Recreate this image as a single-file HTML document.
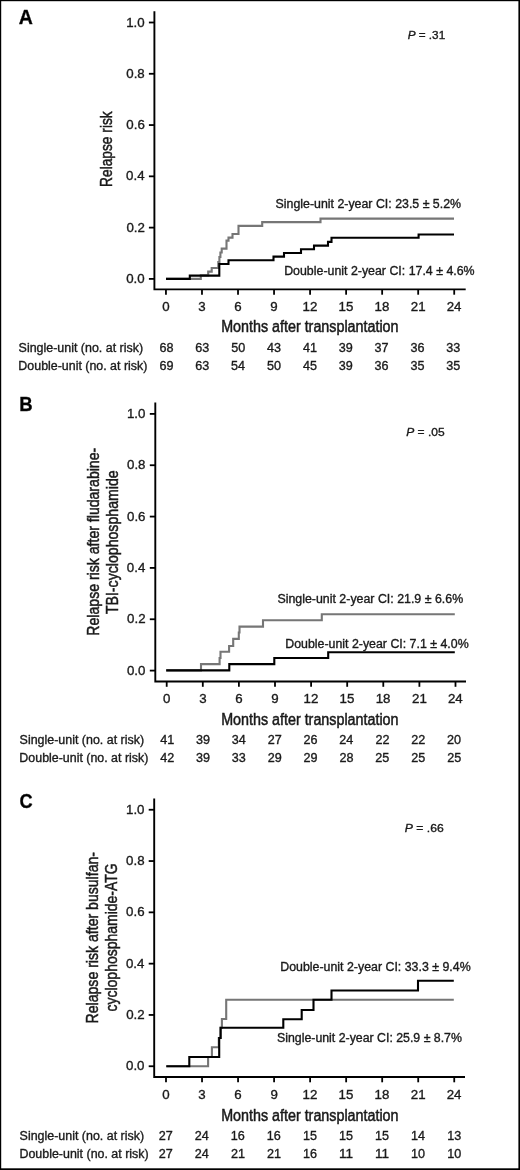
<!DOCTYPE html>
<html><head><meta charset="utf-8"><title>Relapse risk</title>
<style>
html,body{margin:0;padding:0;background:#fff;}
body{width:520px;height:1170px;overflow:hidden;position:relative;}
svg{position:absolute;left:0;top:0;display:block;}
text{font-family:"Liberation Sans", sans-serif;stroke:#1a1a1a;stroke-width:0.35px;}
text.c{stroke-width:0.5px;}
svg.pl{filter:blur(0.3px);}
</style></head>
<body>
<svg class="pl" width="520" height="1170" viewBox="0 0 520 1170">
<rect x="0" y="0" width="520" height="1170" fill="#fff"/>
<path d="M154.40 11.30 L154.40 289.40 L465.70 289.40" fill="none" stroke="#000" stroke-width="1.90" stroke-linejoin="miter"/>
<path d="M148.90 278.90 L154.40 278.90" stroke="#000" stroke-width="1.80"/>
<text x="126.23" y="283.00" font-size="13.30" font-weight="normal" font-style="normal" textLength="18.49" lengthAdjust="spacingAndGlyphs" fill="#1a1a1a">0.0</text>
<path d="M148.90 227.62 L154.40 227.62" stroke="#000" stroke-width="1.80"/>
<text x="126.38" y="231.72" font-size="13.30" font-weight="normal" font-style="normal" textLength="18.49" lengthAdjust="spacingAndGlyphs" fill="#1a1a1a">0.2</text>
<path d="M148.90 176.34 L154.40 176.34" stroke="#000" stroke-width="1.80"/>
<text x="126.10" y="180.44" font-size="13.30" font-weight="normal" font-style="normal" textLength="18.49" lengthAdjust="spacingAndGlyphs" fill="#1a1a1a">0.4</text>
<path d="M148.90 125.06 L154.40 125.06" stroke="#000" stroke-width="1.80"/>
<text x="126.30" y="129.16" font-size="13.30" font-weight="normal" font-style="normal" textLength="18.49" lengthAdjust="spacingAndGlyphs" fill="#1a1a1a">0.6</text>
<path d="M148.90 73.78 L154.40 73.78" stroke="#000" stroke-width="1.80"/>
<text x="126.29" y="77.88" font-size="13.30" font-weight="normal" font-style="normal" textLength="18.49" lengthAdjust="spacingAndGlyphs" fill="#1a1a1a">0.8</text>
<path d="M148.90 22.50 L154.40 22.50" stroke="#000" stroke-width="1.80"/>
<text x="126.23" y="26.60" font-size="13.30" font-weight="normal" font-style="normal" textLength="18.49" lengthAdjust="spacingAndGlyphs" fill="#1a1a1a">1.0</text>
<path d="M165.95 289.40 L165.95 294.70" stroke="#000" stroke-width="1.80"/>
<text x="162.25" y="310.60" font-size="13.30" font-weight="normal" font-style="normal" textLength="7.40" lengthAdjust="spacingAndGlyphs" fill="#1a1a1a">0</text>
<path d="M201.98 289.40 L201.98 294.70" stroke="#000" stroke-width="1.80"/>
<text x="198.32" y="310.60" font-size="13.30" font-weight="normal" font-style="normal" textLength="7.40" lengthAdjust="spacingAndGlyphs" fill="#1a1a1a">3</text>
<path d="M238.02 289.40 L238.02 294.70" stroke="#000" stroke-width="1.80"/>
<text x="234.27" y="310.60" font-size="13.30" font-weight="normal" font-style="normal" textLength="7.40" lengthAdjust="spacingAndGlyphs" fill="#1a1a1a">6</text>
<path d="M274.05 289.40 L274.05 294.70" stroke="#000" stroke-width="1.80"/>
<text x="270.35" y="310.60" font-size="13.30" font-weight="normal" font-style="normal" textLength="7.40" lengthAdjust="spacingAndGlyphs" fill="#1a1a1a">9</text>
<path d="M310.08 289.40 L310.08 294.70" stroke="#000" stroke-width="1.80"/>
<text x="302.51" y="310.60" font-size="13.30" font-weight="normal" font-style="normal" textLength="14.79" lengthAdjust="spacingAndGlyphs" fill="#1a1a1a">12</text>
<path d="M346.12 289.40 L346.12 294.70" stroke="#000" stroke-width="1.80"/>
<text x="338.49" y="310.60" font-size="13.30" font-weight="normal" font-style="normal" textLength="14.79" lengthAdjust="spacingAndGlyphs" fill="#1a1a1a">15</text>
<path d="M382.15 289.40 L382.15 294.70" stroke="#000" stroke-width="1.80"/>
<text x="374.53" y="310.60" font-size="13.30" font-weight="normal" font-style="normal" textLength="14.79" lengthAdjust="spacingAndGlyphs" fill="#1a1a1a">18</text>
<path d="M418.18 289.40 L418.18 294.70" stroke="#000" stroke-width="1.80"/>
<text x="410.77" y="310.60" font-size="13.30" font-weight="normal" font-style="normal" textLength="14.79" lengthAdjust="spacingAndGlyphs" fill="#1a1a1a">21</text>
<path d="M454.21 289.40 L454.21 294.70" stroke="#000" stroke-width="1.80"/>
<text x="446.68" y="310.60" font-size="13.30" font-weight="normal" font-style="normal" textLength="14.79" lengthAdjust="spacingAndGlyphs" fill="#1a1a1a">24</text>
<text x="221.13" y="332.15" font-size="16.00" font-weight="normal" font-style="normal" textLength="177.40" lengthAdjust="spacingAndGlyphs" fill="#1a1a1a" class="c">Months after transplantation</text>
<text class="c" transform="rotate(-90)" x="-186.93" y="112.20" font-size="16.30" textLength="75.61" lengthAdjust="spacingAndGlyphs" fill="#1a1a1a">Relapse risk</text>
<text x="18.71" y="23.60" font-size="19.60" font-weight="bold" font-style="normal" textLength="14.10" lengthAdjust="spacingAndGlyphs" fill="#000">A</text>
<g transform="translate(407.64 38.60) scale(1.0299 1)"><text x="0" y="0" font-size="11.40" fill="#1a1a1a"><tspan font-style="italic">P</tspan><tspan> = .31</tspan></text></g>
<text x="275.64" y="208.10" font-size="12.00" font-weight="normal" font-style="normal" textLength="185.40" lengthAdjust="spacingAndGlyphs" fill="#1a1a1a">Single-unit 2-year CI: 23.5 ± 5.2%</text>
<text x="284.18" y="275.10" font-size="12.00" font-weight="normal" font-style="normal" textLength="190.46" lengthAdjust="spacingAndGlyphs" fill="#1a1a1a">Double-unit 2-year CI: 17.4 ± 4.6%</text>
<text x="18.64" y="351.85" font-size="12.30" font-weight="normal" font-style="normal" textLength="124.44" lengthAdjust="spacingAndGlyphs" fill="#1a1a1a">Single-unit (no. at risk)</text>
<text x="159.40" y="351.85" font-size="12.60" font-weight="normal" font-style="normal" textLength="14.02" lengthAdjust="spacingAndGlyphs" fill="#1a1a1a">68</text>
<text x="195.25" y="351.85" font-size="12.60" font-weight="normal" font-style="normal" textLength="14.02" lengthAdjust="spacingAndGlyphs" fill="#1a1a1a">63</text>
<text x="231.14" y="351.85" font-size="12.60" font-weight="normal" font-style="normal" textLength="14.02" lengthAdjust="spacingAndGlyphs" fill="#1a1a1a">50</text>
<text x="267.12" y="351.85" font-size="12.60" font-weight="normal" font-style="normal" textLength="14.02" lengthAdjust="spacingAndGlyphs" fill="#1a1a1a">43</text>
<text x="303.01" y="351.85" font-size="12.60" font-weight="normal" font-style="normal" textLength="14.02" lengthAdjust="spacingAndGlyphs" fill="#1a1a1a">41</text>
<text x="338.75" y="351.85" font-size="12.60" font-weight="normal" font-style="normal" textLength="14.02" lengthAdjust="spacingAndGlyphs" fill="#1a1a1a">39</text>
<text x="374.62" y="351.85" font-size="12.60" font-weight="normal" font-style="normal" textLength="14.02" lengthAdjust="spacingAndGlyphs" fill="#1a1a1a">37</text>
<text x="410.43" y="351.85" font-size="12.60" font-weight="normal" font-style="normal" textLength="14.02" lengthAdjust="spacingAndGlyphs" fill="#1a1a1a">36</text>
<text x="446.28" y="351.85" font-size="12.60" font-weight="normal" font-style="normal" textLength="14.02" lengthAdjust="spacingAndGlyphs" fill="#1a1a1a">33</text>
<text x="18.38" y="369.85" font-size="12.30" font-weight="normal" font-style="normal" textLength="128.99" lengthAdjust="spacingAndGlyphs" fill="#1a1a1a">Double-unit (no. at risk)</text>
<text x="159.42" y="369.85" font-size="12.60" font-weight="normal" font-style="normal" textLength="14.02" lengthAdjust="spacingAndGlyphs" fill="#1a1a1a">69</text>
<text x="195.25" y="369.85" font-size="12.60" font-weight="normal" font-style="normal" textLength="14.02" lengthAdjust="spacingAndGlyphs" fill="#1a1a1a">63</text>
<text x="231.07" y="369.85" font-size="12.60" font-weight="normal" font-style="normal" textLength="14.02" lengthAdjust="spacingAndGlyphs" fill="#1a1a1a">54</text>
<text x="266.99" y="369.85" font-size="12.60" font-weight="normal" font-style="normal" textLength="14.02" lengthAdjust="spacingAndGlyphs" fill="#1a1a1a">50</text>
<text x="302.96" y="369.85" font-size="12.60" font-weight="normal" font-style="normal" textLength="14.02" lengthAdjust="spacingAndGlyphs" fill="#1a1a1a">45</text>
<text x="338.75" y="369.85" font-size="12.60" font-weight="normal" font-style="normal" textLength="14.02" lengthAdjust="spacingAndGlyphs" fill="#1a1a1a">39</text>
<text x="374.58" y="369.85" font-size="12.60" font-weight="normal" font-style="normal" textLength="14.02" lengthAdjust="spacingAndGlyphs" fill="#1a1a1a">36</text>
<text x="410.42" y="369.85" font-size="12.60" font-weight="normal" font-style="normal" textLength="14.02" lengthAdjust="spacingAndGlyphs" fill="#1a1a1a">35</text>
<text x="446.27" y="369.85" font-size="12.60" font-weight="normal" font-style="normal" textLength="14.02" lengthAdjust="spacingAndGlyphs" fill="#1a1a1a">35</text>
<path d="M166.00 278.90 L200.80 278.90 L200.80 275.40 L208.20 275.40 L208.20 271.60 L211.70 271.60 L211.70 268.00 L218.30 268.00 L218.30 262.00 L219.40 262.00 L219.40 257.00 L220.40 257.00 L220.40 252.50 L221.70 252.50 L221.70 248.60 L226.50 248.60 L226.50 240.60 L228.50 240.60 L228.50 237.60 L232.50 237.60 L232.50 234.00 L238.50 234.00 L238.50 225.90 L262.20 225.90 L262.20 222.10 L320.50 222.10 L320.50 218.60 L454.00 218.60" fill="none" stroke="#767676" stroke-width="2.10" stroke-linejoin="miter" stroke-linecap="butt"/>
<path d="M166.00 278.90 L189.80 278.90 L189.80 275.60 L219.30 275.60 L219.30 264.00 L228.50 264.00 L228.50 260.20 L273.50 260.20 L273.50 256.60 L284.00 256.60 L284.00 253.00 L301.00 253.00 L301.00 249.20 L314.00 249.20 L314.00 245.60 L328.00 245.60 L328.00 241.90 L331.50 241.90 L331.50 237.80 L418.60 237.80 L418.60 234.50 L454.00 234.50" fill="none" stroke="#000" stroke-width="2.10" stroke-linejoin="miter" stroke-linecap="butt"/>
<path d="M155.30 402.50 L155.30 681.50 L466.00 681.50" fill="none" stroke="#000" stroke-width="1.90" stroke-linejoin="miter"/>
<path d="M149.80 670.60 L155.30 670.60" stroke="#000" stroke-width="1.80"/>
<text x="126.93" y="674.70" font-size="13.30" font-weight="normal" font-style="normal" textLength="18.49" lengthAdjust="spacingAndGlyphs" fill="#1a1a1a">0.0</text>
<path d="M149.80 619.26 L155.30 619.26" stroke="#000" stroke-width="1.80"/>
<text x="127.08" y="623.36" font-size="13.30" font-weight="normal" font-style="normal" textLength="18.49" lengthAdjust="spacingAndGlyphs" fill="#1a1a1a">0.2</text>
<path d="M149.80 567.92 L155.30 567.92" stroke="#000" stroke-width="1.80"/>
<text x="126.80" y="572.02" font-size="13.30" font-weight="normal" font-style="normal" textLength="18.49" lengthAdjust="spacingAndGlyphs" fill="#1a1a1a">0.4</text>
<path d="M149.80 516.58 L155.30 516.58" stroke="#000" stroke-width="1.80"/>
<text x="127.00" y="520.68" font-size="13.30" font-weight="normal" font-style="normal" textLength="18.49" lengthAdjust="spacingAndGlyphs" fill="#1a1a1a">0.6</text>
<path d="M149.80 465.24 L155.30 465.24" stroke="#000" stroke-width="1.80"/>
<text x="126.99" y="469.34" font-size="13.30" font-weight="normal" font-style="normal" textLength="18.49" lengthAdjust="spacingAndGlyphs" fill="#1a1a1a">0.8</text>
<path d="M149.80 413.90 L155.30 413.90" stroke="#000" stroke-width="1.80"/>
<text x="126.93" y="418.00" font-size="13.30" font-weight="normal" font-style="normal" textLength="18.49" lengthAdjust="spacingAndGlyphs" fill="#1a1a1a">1.0</text>
<path d="M166.70 681.50 L166.70 686.80" stroke="#000" stroke-width="1.80"/>
<text x="163.00" y="702.70" font-size="13.30" font-weight="normal" font-style="normal" textLength="7.40" lengthAdjust="spacingAndGlyphs" fill="#1a1a1a">0</text>
<path d="M202.80 681.50 L202.80 686.80" stroke="#000" stroke-width="1.80"/>
<text x="199.14" y="702.70" font-size="13.30" font-weight="normal" font-style="normal" textLength="7.40" lengthAdjust="spacingAndGlyphs" fill="#1a1a1a">3</text>
<path d="M238.90 681.50 L238.90 686.80" stroke="#000" stroke-width="1.80"/>
<text x="235.15" y="702.70" font-size="13.30" font-weight="normal" font-style="normal" textLength="7.40" lengthAdjust="spacingAndGlyphs" fill="#1a1a1a">6</text>
<path d="M275.00 681.50 L275.00 686.80" stroke="#000" stroke-width="1.80"/>
<text x="271.30" y="702.70" font-size="13.30" font-weight="normal" font-style="normal" textLength="7.40" lengthAdjust="spacingAndGlyphs" fill="#1a1a1a">9</text>
<path d="M311.10 681.50 L311.10 686.80" stroke="#000" stroke-width="1.80"/>
<text x="303.53" y="702.70" font-size="13.30" font-weight="normal" font-style="normal" textLength="14.79" lengthAdjust="spacingAndGlyphs" fill="#1a1a1a">12</text>
<path d="M347.19 681.50 L347.19 686.80" stroke="#000" stroke-width="1.80"/>
<text x="339.57" y="702.70" font-size="13.30" font-weight="normal" font-style="normal" textLength="14.79" lengthAdjust="spacingAndGlyphs" fill="#1a1a1a">15</text>
<path d="M383.29 681.50 L383.29 686.80" stroke="#000" stroke-width="1.80"/>
<text x="375.68" y="702.70" font-size="13.30" font-weight="normal" font-style="normal" textLength="14.79" lengthAdjust="spacingAndGlyphs" fill="#1a1a1a">18</text>
<path d="M419.39 681.50 L419.39 686.80" stroke="#000" stroke-width="1.80"/>
<text x="411.99" y="702.70" font-size="13.30" font-weight="normal" font-style="normal" textLength="14.79" lengthAdjust="spacingAndGlyphs" fill="#1a1a1a">21</text>
<path d="M455.49 681.50 L455.49 686.80" stroke="#000" stroke-width="1.80"/>
<text x="447.96" y="702.70" font-size="13.30" font-weight="normal" font-style="normal" textLength="14.79" lengthAdjust="spacingAndGlyphs" fill="#1a1a1a">24</text>
<text x="221.13" y="725.15" font-size="16.00" font-weight="normal" font-style="normal" textLength="177.40" lengthAdjust="spacingAndGlyphs" fill="#1a1a1a" class="c">Months after transplantation</text>
<text class="c" transform="rotate(-90)" x="-635.66" y="99.40" font-size="16.30" textLength="187.88" lengthAdjust="spacingAndGlyphs" fill="#1a1a1a">Relapse risk after fludarabine-</text>
<text class="c" transform="rotate(-90)" x="-614.12" y="118.40" font-size="16.30" textLength="143.75" lengthAdjust="spacingAndGlyphs" fill="#1a1a1a">TBI-cyclophosphamide</text>
<text x="19.16" y="410.60" font-size="19.60" font-weight="bold" font-style="normal" textLength="13.38" lengthAdjust="spacingAndGlyphs" fill="#000">B</text>
<g transform="translate(406.23 436.20) scale(1.0530 1)"><text x="0" y="0" font-size="11.40" fill="#1a1a1a"><tspan font-style="italic">P</tspan><tspan> = .05</tspan></text></g>
<text x="277.44" y="603.40" font-size="12.00" font-weight="normal" font-style="normal" textLength="185.70" lengthAdjust="spacingAndGlyphs" fill="#1a1a1a">Single-unit 2-year CI: 21.9 ± 6.6%</text>
<text x="285.29" y="648.10" font-size="12.00" font-weight="normal" font-style="normal" textLength="183.35" lengthAdjust="spacingAndGlyphs" fill="#1a1a1a">Double-unit 2-year CI: 7.1 ± 4.0%</text>
<text x="19.64" y="744.35" font-size="12.30" font-weight="normal" font-style="normal" textLength="124.44" lengthAdjust="spacingAndGlyphs" fill="#1a1a1a">Single-unit (no. at risk)</text>
<text x="160.16" y="744.35" font-size="12.60" font-weight="normal" font-style="normal" textLength="14.02" lengthAdjust="spacingAndGlyphs" fill="#1a1a1a">41</text>
<text x="195.95" y="744.35" font-size="12.60" font-weight="normal" font-style="normal" textLength="14.02" lengthAdjust="spacingAndGlyphs" fill="#1a1a1a">39</text>
<text x="231.74" y="744.35" font-size="12.60" font-weight="normal" font-style="normal" textLength="14.02" lengthAdjust="spacingAndGlyphs" fill="#1a1a1a">34</text>
<text x="267.69" y="744.35" font-size="12.60" font-weight="normal" font-style="normal" textLength="14.02" lengthAdjust="spacingAndGlyphs" fill="#1a1a1a">27</text>
<text x="303.55" y="744.35" font-size="12.60" font-weight="normal" font-style="normal" textLength="14.02" lengthAdjust="spacingAndGlyphs" fill="#1a1a1a">26</text>
<text x="339.36" y="744.35" font-size="12.60" font-weight="normal" font-style="normal" textLength="14.02" lengthAdjust="spacingAndGlyphs" fill="#1a1a1a">24</text>
<text x="375.39" y="744.35" font-size="12.60" font-weight="normal" font-style="normal" textLength="14.02" lengthAdjust="spacingAndGlyphs" fill="#1a1a1a">22</text>
<text x="411.29" y="744.35" font-size="12.60" font-weight="normal" font-style="normal" textLength="14.02" lengthAdjust="spacingAndGlyphs" fill="#1a1a1a">22</text>
<text x="447.12" y="744.35" font-size="12.60" font-weight="normal" font-style="normal" textLength="14.02" lengthAdjust="spacingAndGlyphs" fill="#1a1a1a">20</text>
<text x="19.38" y="762.35" font-size="12.30" font-weight="normal" font-style="normal" textLength="128.99" lengthAdjust="spacingAndGlyphs" fill="#1a1a1a">Double-unit (no. at risk)</text>
<text x="160.16" y="762.35" font-size="12.60" font-weight="normal" font-style="normal" textLength="14.02" lengthAdjust="spacingAndGlyphs" fill="#1a1a1a">42</text>
<text x="195.95" y="762.35" font-size="12.60" font-weight="normal" font-style="normal" textLength="14.02" lengthAdjust="spacingAndGlyphs" fill="#1a1a1a">39</text>
<text x="231.83" y="762.35" font-size="12.60" font-weight="normal" font-style="normal" textLength="14.02" lengthAdjust="spacingAndGlyphs" fill="#1a1a1a">33</text>
<text x="267.67" y="762.35" font-size="12.60" font-weight="normal" font-style="normal" textLength="14.02" lengthAdjust="spacingAndGlyphs" fill="#1a1a1a">29</text>
<text x="303.57" y="762.35" font-size="12.60" font-weight="normal" font-style="normal" textLength="14.02" lengthAdjust="spacingAndGlyphs" fill="#1a1a1a">29</text>
<text x="339.45" y="762.35" font-size="12.60" font-weight="normal" font-style="normal" textLength="14.02" lengthAdjust="spacingAndGlyphs" fill="#1a1a1a">28</text>
<text x="375.34" y="762.35" font-size="12.60" font-weight="normal" font-style="normal" textLength="14.02" lengthAdjust="spacingAndGlyphs" fill="#1a1a1a">25</text>
<text x="411.24" y="762.35" font-size="12.60" font-weight="normal" font-style="normal" textLength="14.02" lengthAdjust="spacingAndGlyphs" fill="#1a1a1a">25</text>
<text x="447.14" y="762.35" font-size="12.60" font-weight="normal" font-style="normal" textLength="14.02" lengthAdjust="spacingAndGlyphs" fill="#1a1a1a">25</text>
<path d="M166.20 670.40 L201.00 670.40 L201.00 664.10 L219.60 664.10 L219.60 658.00 L220.50 658.00 L220.50 651.80 L229.10 651.80 L229.10 646.00 L233.20 646.00 L233.20 638.90 L238.80 638.90 L238.80 632.50 L239.50 632.50 L239.50 626.60 L263.00 626.60 L263.00 620.30 L321.80 620.30 L321.80 614.30 L454.80 614.30" fill="none" stroke="#767676" stroke-width="2.10" stroke-linejoin="miter" stroke-linecap="butt"/>
<path d="M166.20 670.40 L229.30 670.40 L229.30 664.10 L274.30 664.10 L274.30 658.00 L328.20 658.00 L328.20 652.30 L454.80 652.30" fill="none" stroke="#000" stroke-width="2.10" stroke-linejoin="miter" stroke-linecap="butt"/>
<path d="M154.20 798.50 L154.20 1077.00 L465.00 1077.00" fill="none" stroke="#000" stroke-width="1.90" stroke-linejoin="miter"/>
<path d="M148.70 1066.25 L154.20 1066.25" stroke="#000" stroke-width="1.80"/>
<text x="126.03" y="1070.35" font-size="13.30" font-weight="normal" font-style="normal" textLength="18.49" lengthAdjust="spacingAndGlyphs" fill="#1a1a1a">0.0</text>
<path d="M148.70 1014.95 L154.20 1014.95" stroke="#000" stroke-width="1.80"/>
<text x="126.18" y="1019.05" font-size="13.30" font-weight="normal" font-style="normal" textLength="18.49" lengthAdjust="spacingAndGlyphs" fill="#1a1a1a">0.2</text>
<path d="M148.70 963.65 L154.20 963.65" stroke="#000" stroke-width="1.80"/>
<text x="125.90" y="967.75" font-size="13.30" font-weight="normal" font-style="normal" textLength="18.49" lengthAdjust="spacingAndGlyphs" fill="#1a1a1a">0.4</text>
<path d="M148.70 912.35 L154.20 912.35" stroke="#000" stroke-width="1.80"/>
<text x="126.10" y="916.45" font-size="13.30" font-weight="normal" font-style="normal" textLength="18.49" lengthAdjust="spacingAndGlyphs" fill="#1a1a1a">0.6</text>
<path d="M148.70 861.05 L154.20 861.05" stroke="#000" stroke-width="1.80"/>
<text x="126.09" y="865.15" font-size="13.30" font-weight="normal" font-style="normal" textLength="18.49" lengthAdjust="spacingAndGlyphs" fill="#1a1a1a">0.8</text>
<path d="M148.70 809.75 L154.20 809.75" stroke="#000" stroke-width="1.80"/>
<text x="126.03" y="813.85" font-size="13.30" font-weight="normal" font-style="normal" textLength="18.49" lengthAdjust="spacingAndGlyphs" fill="#1a1a1a">1.0</text>
<path d="M166.00 1077.00 L166.00 1082.30" stroke="#000" stroke-width="1.80"/>
<text x="162.30" y="1098.90" font-size="13.30" font-weight="normal" font-style="normal" textLength="7.40" lengthAdjust="spacingAndGlyphs" fill="#1a1a1a">0</text>
<path d="M202.03 1077.00 L202.03 1082.30" stroke="#000" stroke-width="1.80"/>
<text x="198.37" y="1098.90" font-size="13.30" font-weight="normal" font-style="normal" textLength="7.40" lengthAdjust="spacingAndGlyphs" fill="#1a1a1a">3</text>
<path d="M238.06 1077.00 L238.06 1082.30" stroke="#000" stroke-width="1.80"/>
<text x="234.32" y="1098.90" font-size="13.30" font-weight="normal" font-style="normal" textLength="7.40" lengthAdjust="spacingAndGlyphs" fill="#1a1a1a">6</text>
<path d="M274.09 1077.00 L274.09 1082.30" stroke="#000" stroke-width="1.80"/>
<text x="270.39" y="1098.90" font-size="13.30" font-weight="normal" font-style="normal" textLength="7.40" lengthAdjust="spacingAndGlyphs" fill="#1a1a1a">9</text>
<path d="M310.12 1077.00 L310.12 1082.30" stroke="#000" stroke-width="1.80"/>
<text x="302.55" y="1098.90" font-size="13.30" font-weight="normal" font-style="normal" textLength="14.79" lengthAdjust="spacingAndGlyphs" fill="#1a1a1a">12</text>
<path d="M346.15 1077.00 L346.15 1082.30" stroke="#000" stroke-width="1.80"/>
<text x="338.53" y="1098.90" font-size="13.30" font-weight="normal" font-style="normal" textLength="14.79" lengthAdjust="spacingAndGlyphs" fill="#1a1a1a">15</text>
<path d="M382.18 1077.00 L382.18 1082.30" stroke="#000" stroke-width="1.80"/>
<text x="374.57" y="1098.90" font-size="13.30" font-weight="normal" font-style="normal" textLength="14.79" lengthAdjust="spacingAndGlyphs" fill="#1a1a1a">18</text>
<path d="M418.21 1077.00 L418.21 1082.30" stroke="#000" stroke-width="1.80"/>
<text x="410.80" y="1098.90" font-size="13.30" font-weight="normal" font-style="normal" textLength="14.79" lengthAdjust="spacingAndGlyphs" fill="#1a1a1a">21</text>
<path d="M454.24 1077.00 L454.24 1082.30" stroke="#000" stroke-width="1.80"/>
<text x="446.70" y="1098.90" font-size="13.30" font-weight="normal" font-style="normal" textLength="14.79" lengthAdjust="spacingAndGlyphs" fill="#1a1a1a">24</text>
<text x="221.13" y="1120.65" font-size="16.00" font-weight="normal" font-style="normal" textLength="177.40" lengthAdjust="spacingAndGlyphs" fill="#1a1a1a" class="c">Months after transplantation</text>
<text class="c" transform="rotate(-90)" x="-1023.46" y="98.10" font-size="16.30" textLength="171.48" lengthAdjust="spacingAndGlyphs" fill="#1a1a1a">Relapse risk after busulfan-</text>
<text class="c" transform="rotate(-90)" x="-1011.49" y="116.60" font-size="16.30" textLength="148.13" lengthAdjust="spacingAndGlyphs" fill="#1a1a1a">cyclophosphamide-ATG</text>
<text x="19.45" y="808.20" font-size="20.20" font-weight="bold" font-style="normal" textLength="13.14" lengthAdjust="spacingAndGlyphs" fill="#000">C</text>
<g transform="translate(404.83 832.10) scale(1.0677 1)"><text x="0" y="0" font-size="11.40" fill="#1a1a1a"><tspan font-style="italic">P</tspan><tspan> = .66</tspan></text></g>
<text x="280.29" y="971.10" font-size="12.00" font-weight="normal" font-style="normal" textLength="190.36" lengthAdjust="spacingAndGlyphs" fill="#1a1a1a">Double-unit 2-year CI: 33.3 ± 9.4%</text>
<text x="277.04" y="1041.60" font-size="12.00" font-weight="normal" font-style="normal" textLength="184.90" lengthAdjust="spacingAndGlyphs" fill="#1a1a1a">Single-unit 2-year CI: 25.9 ± 8.7%</text>
<text x="19.64" y="1140.05" font-size="12.30" font-weight="normal" font-style="normal" textLength="124.44" lengthAdjust="spacingAndGlyphs" fill="#1a1a1a">Single-unit (no. at risk)</text>
<text x="158.79" y="1140.05" font-size="12.60" font-weight="normal" font-style="normal" textLength="14.02" lengthAdjust="spacingAndGlyphs" fill="#1a1a1a">27</text>
<text x="194.74" y="1140.05" font-size="12.60" font-weight="normal" font-style="normal" textLength="14.02" lengthAdjust="spacingAndGlyphs" fill="#1a1a1a">24</text>
<text x="230.75" y="1140.05" font-size="12.60" font-weight="normal" font-style="normal" textLength="14.02" lengthAdjust="spacingAndGlyphs" fill="#1a1a1a">16</text>
<text x="266.83" y="1140.05" font-size="12.60" font-weight="normal" font-style="normal" textLength="14.02" lengthAdjust="spacingAndGlyphs" fill="#1a1a1a">16</text>
<text x="302.90" y="1140.05" font-size="12.60" font-weight="normal" font-style="normal" textLength="14.02" lengthAdjust="spacingAndGlyphs" fill="#1a1a1a">15</text>
<text x="338.98" y="1140.05" font-size="12.60" font-weight="normal" font-style="normal" textLength="14.02" lengthAdjust="spacingAndGlyphs" fill="#1a1a1a">15</text>
<text x="375.06" y="1140.05" font-size="12.60" font-weight="normal" font-style="normal" textLength="14.02" lengthAdjust="spacingAndGlyphs" fill="#1a1a1a">15</text>
<text x="411.06" y="1140.05" font-size="12.60" font-weight="normal" font-style="normal" textLength="14.02" lengthAdjust="spacingAndGlyphs" fill="#1a1a1a">14</text>
<text x="447.23" y="1140.05" font-size="12.60" font-weight="normal" font-style="normal" textLength="14.02" lengthAdjust="spacingAndGlyphs" fill="#1a1a1a">13</text>
<text x="19.48" y="1158.05" font-size="12.30" font-weight="normal" font-style="normal" textLength="129.19" lengthAdjust="spacingAndGlyphs" fill="#1a1a1a">Double-unit (no. at risk)</text>
<text x="158.79" y="1158.05" font-size="12.60" font-weight="normal" font-style="normal" textLength="14.02" lengthAdjust="spacingAndGlyphs" fill="#1a1a1a">27</text>
<text x="194.74" y="1158.05" font-size="12.60" font-weight="normal" font-style="normal" textLength="14.02" lengthAdjust="spacingAndGlyphs" fill="#1a1a1a">24</text>
<text x="230.94" y="1158.05" font-size="12.60" font-weight="normal" font-style="normal" textLength="14.02" lengthAdjust="spacingAndGlyphs" fill="#1a1a1a">21</text>
<text x="267.02" y="1158.05" font-size="12.60" font-weight="normal" font-style="normal" textLength="14.02" lengthAdjust="spacingAndGlyphs" fill="#1a1a1a">21</text>
<text x="302.91" y="1158.05" font-size="12.60" font-weight="normal" font-style="normal" textLength="14.02" lengthAdjust="spacingAndGlyphs" fill="#1a1a1a">16</text>
<text x="339.02" y="1158.05" font-size="12.60" font-weight="normal" font-style="normal" textLength="14.02" lengthAdjust="spacingAndGlyphs" fill="#1a1a1a">11</text>
<text x="375.10" y="1158.05" font-size="12.60" font-weight="normal" font-style="normal" textLength="14.02" lengthAdjust="spacingAndGlyphs" fill="#1a1a1a">11</text>
<text x="411.12" y="1158.05" font-size="12.60" font-weight="normal" font-style="normal" textLength="14.02" lengthAdjust="spacingAndGlyphs" fill="#1a1a1a">10</text>
<text x="447.20" y="1158.05" font-size="12.60" font-weight="normal" font-style="normal" textLength="14.02" lengthAdjust="spacingAndGlyphs" fill="#1a1a1a">10</text>
<path d="M166.30 1066.30 L208.10 1066.30 L208.10 1057.00 L211.90 1057.00 L211.90 1047.30 L218.80 1047.30 L218.80 1038.00 L220.60 1038.00 L220.60 1027.80 L221.90 1027.80 L221.90 1019.00 L226.20 1019.00 L226.20 999.80 L453.80 999.80" fill="none" stroke="#767676" stroke-width="2.10" stroke-linejoin="miter" stroke-linecap="butt"/>
<path d="M166.30 1066.30 L189.30 1066.30 L189.30 1057.00 L219.20 1057.00 L219.20 1038.00 L220.60 1038.00 L220.60 1027.80 L283.30 1027.80 L283.30 1019.30 L301.70 1019.30 L301.70 1010.00 L313.50 1010.00 L313.50 999.80 L331.50 999.80 L331.50 990.50 L418.00 990.50 L418.00 980.70 L453.80 980.70" fill="none" stroke="#000" stroke-width="2.10" stroke-linejoin="miter" stroke-linecap="butt"/>
</svg>
<svg class="bd" width="520" height="1170" viewBox="0 0 520 1170">
<rect x="0" y="0" width="520" height="1.2" fill="#000"/>
<rect x="0" y="0" width="1.2" height="1170" fill="#000"/>
<rect x="518.4" y="0" width="1.6" height="1170" fill="#000"/>
<rect x="0" y="1168.3" width="520" height="1.7" fill="#000"/>
</svg>
</body></html>
